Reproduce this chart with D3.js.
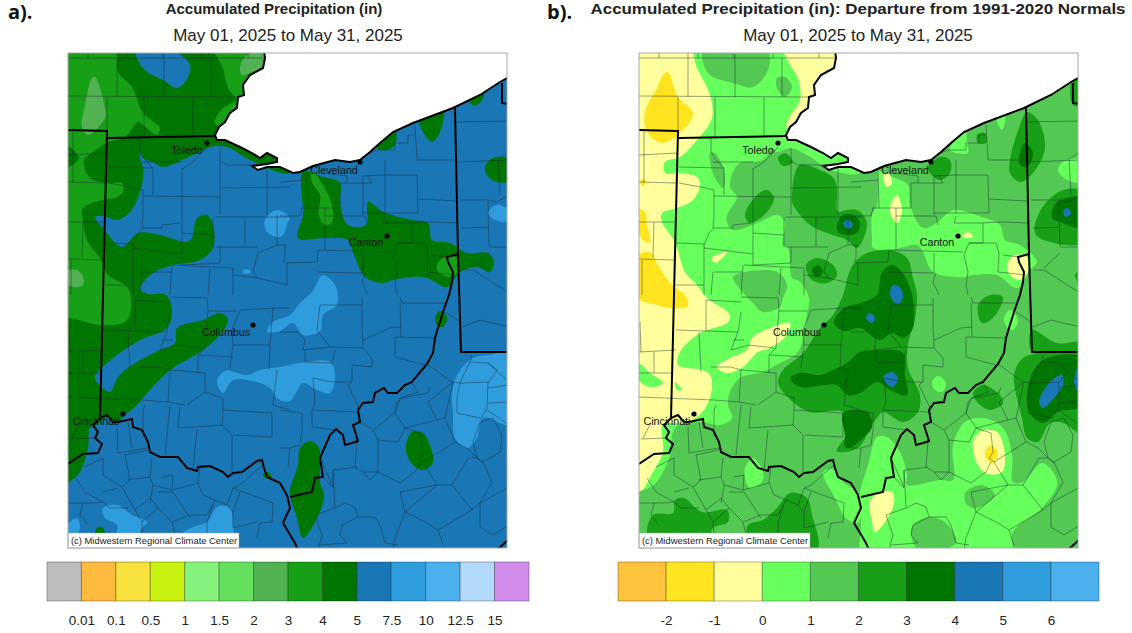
<!DOCTYPE html>
<html>
<head>
<meta charset="utf-8">
<script src="https://cdn.jsdelivr.net/npm/d3@7"></script>
<style>
  body { margin: 0; background: #fff; }
  text { font-family: "Liberation Sans", Arial, sans-serif; }
</style>
</head>
<body>
<div id="my_dataviz"></div>
<script>
// legend categories
var precipColors = ["#bdbdbd","#ffbb3d","#f7e13c","#c8f10f","#85f27c","#64df5e","#52b153","#17a017","#007500","#1a77b6","#2f9ddd","#4ab0ee","#b3d9fa","#d18cec"];
var precipTicks = ["0.01","0.1","0.5","1","1.5","2","3","4","5","7.5","10","12.5","15"];
var departColors = ["#ffc43e","#ffe51f","#ffff9d","#66ff5c","#53c953","#17a017","#007500","#1a77b6","#2f9ddd","#4ab0ee"];
var departTicks = ["-2","-1","0","1","2","3","4","5","6"];

// cities
var cityNames = ["Toledo","Cleveland","Canton","Columbus","Cincinnati"];
var cityDots = [[139,90],[292,109],[319,183],[185,272],[55,361]];
var cityLabels = [[119,97],[266,117],[298,189],[158,279],[28,368]];

var lakeShore = [[196,-3],[197,5],[195,15],[182,22],[175,32],[176,42],[170,44],[169,55],[162,60],[157,69],[151,74],[147,82],[149,87],[157,87],[172,94],[184,100],[192,105],[199,100],[209,105],[209,109],[199,111],[184,113],[190,117],[199,114],[212,114],[225,120],[232,119],[245,113],[267,107],[282,109],[292,107],[302,99],[312,90],[325,79],[345,70],[385,55],[412,42],[432,29],[441,24]];
var lakeCorners = [[441,-3]];

var stateLines = [
  [[0,77],[39,78],[35,242],[32,365]],
  [[40,85],[147,83]],
  [[0,411],[15,401],[30,400],[34,391],[27,385],[30,379],[25,372],[32,365],[39,362],[45,369],[50,369],[64,366],[65,374],[74,377],[80,389],[82,399],[92,404],[110,404],[119,415],[129,418],[130,414],[142,413],[155,419],[160,424],[165,420],[174,419],[189,408],[194,407],[196,415],[199,424],[212,430],[219,442],[222,455],[215,470],[227,490],[230,497]],
  [[222,444],[244,439],[247,425],[255,424],[252,405],[262,382],[268,376],[275,382],[277,392],[284,390],[290,388],[285,372],[292,369],[290,357],[295,350],[305,349],[307,340],[316,335],[320,340],[329,340],[337,332],[344,329],[359,311],[365,300],[367,285],[370,275],[375,259],[381,242],[384,229],[385,219],[380,209],[379,204],[390,201]],
  [[387,55],[390,201],[393,299],[441,299]],
  [[434,30],[434,50],[441,51]],
  [[430,496],[441,486]]
];

var countyLines = [
  [[0,5],[196,5]],[[20,0],[20,5]],[[59,0],[59,5]],[[95,0],[95,5]],[[134,0],[134,5]],[[180,0],[180,5]],
  [[49,0],[49,44]],[[0,43],[170,44]],[[39,44],[39,78]],[[76,44],[76,84]],[[125,44],[125,83]],[[96,2],[96,44]],[[143,5],[143,44]],
  [[0,102],[39,100]],[[0,129],[37,130]],[[15,169],[14,205]],[[0,169],[36,169]],[[0,206],[35,207]],[[5,77],[5,129]],[[3,207],[3,242]],
  [[72,85],[72,99],[77,107],[85,115],[85,142]],[[40,114],[85,115]],[[40,130],[67,135],[75,137],[75,162]],[[75,143],[152,144]],
  [[114,115],[114,212]],[[114,116],[125,109],[139,94]],[[74,109],[114,109]],
  [[152,95],[152,162]],[[152,108],[159,112],[199,112]],[[152,135],[222,134]],[[199,112],[199,162]],[[147,164],[222,164]],[[145,164],[145,194]],[[177,164],[177,194]],[[209,162],[209,192]],[[147,194],[189,194]],[[152,194],[152,210]],[[190,200],[209,192],[219,192]],[[190,200],[185,218],[189,225],[219,232]],[[219,210],[219,232]],
  [[75,162],[74,175],[94,175],[94,172],[112,170]],[[75,175],[70,180],[65,192]],[[114,180],[145,182]],[[37,190],[65,191]],[[65,195],[114,201]],[[65,191],[65,242]],[[114,212],[152,210]],[[104,212],[102,242]],[[75,219],[104,219]],[[74,219],[72,242]],[[37,232],[65,232]],[[142,215],[140,242]],[[165,215],[165,242]],[[165,222],[189,225]],[[105,212],[165,215]],
  [[212,129],[240,127]],[[239,117],[240,155]],[[233,155],[272,155]],[[234,155],[232,163]],[[212,163],[232,163]],[[257,155],[257,197]],[[272,130],[272,155]],[[255,120],[279,123],[279,130]],[[272,130],[304,130]],[[300,122],[304,130]],[[295,123],[317,122],[349,122]],[[295,123],[295,162]],[[257,163],[297,163],[299,172]],[[317,107],[317,160]],[[317,163],[315,170],[344,170]],[[344,170],[344,190]],[[349,122],[350,160]],[[295,160],[350,160]],[[349,107],[389,107]],[[349,107],[347,72]],[[329,90],[340,90],[340,82],[347,82]],[[327,89],[327,97],[309,97],[302,100]],[[350,146],[389,148]],[[344,170],[359,169],[365,169],[389,170]],
  [[330,190],[357,190],[360,200],[359,219]],[[325,202],[330,190]],[[325,202],[329,219],[327,232],[329,242]],[[250,197],[324,199]],[[250,197],[249,209]],[[217,210],[249,209]],[[295,200],[295,220]],[[297,220],[294,229],[300,242]],[[249,219],[295,220]],[[359,219],[387,222]],[[344,190],[330,190]],[[364,202],[380,204]],[[217,192],[217,205],[215,210]],
  [[387,69],[441,68]],[[389,109],[441,107]],[[430,105],[432,142]],[[432,105],[441,99]],[[392,147],[420,147],[429,149],[441,142]],[[420,149],[421,194]],[[422,194],[441,194]],[[394,175],[420,174]],[[405,215],[421,200]],[[395,217],[405,217]],[[405,217],[441,240]],
  [[0,299],[37,297]],[[0,320],[34,320]],[[0,344],[75,347]],[[15,299],[15,320]],[[1,269],[2,299]],[[60,279],[62,319]],[[37,277],[99,279]],[[67,247],[67,277]],[[67,247],[102,249]],[[102,259],[99,279],[92,297]],[[102,244],[139,245],[140,257]],[[172,257],[205,255],[222,255]],[[172,257],[164,277],[165,292],[162,315]],[[140,258],[169,258]],[[140,257],[137,295],[130,302]],[[110,292],[135,295]],[[92,297],[110,292]],[[94,287],[105,287]],[[72,314],[92,314],[102,317]],[[102,317],[137,320]],[[130,302],[130,320]],[[130,302],[165,304]],[[165,292],[202,292]],[[201,317],[202,292],[205,255]],[[137,320],[137,339]],[[119,352],[137,339],[155,345]],[[102,317],[100,349]],[[75,347],[100,349],[117,352]],[[112,354],[110,375],[155,372]],[[155,357],[204,360]],[[155,345],[155,357],[154,372]],[[204,360],[204,384],[165,382]],[[154,372],[164,382],[164,419]],[[129,377],[125,417]],[[102,352],[97,402]],[[77,352],[75,357],[75,384]],[[49,374],[50,400]],[[60,369],[64,395]],[[50,400],[80,395]],[[12,370],[4,385]],[[2,386],[27,385]],
  [[209,317],[205,352],[222,357]],
  [[35,405],[35,422],[54,434],[62,427],[57,402]],[[17,414],[35,405]],[[57,402],[80,397]],[[59,427],[82,424],[84,405]],[[82,424],[85,432],[104,437],[105,422],[95,424]],[[104,437],[130,430],[132,414]],[[130,430],[135,442],[159,452],[165,435],[172,432],[195,412]],[[165,435],[205,450]],[[205,450],[204,469],[192,470],[189,485]],[[85,432],[82,450]],[[54,434],[67,457],[82,445]],[[8,425],[17,439],[35,449]],[[35,439],[50,435]],[[35,449],[42,455],[60,455]],[[0,450],[25,450],[35,449]],[[15,450],[12,462],[20,472]],[[67,457],[74,469],[90,455],[82,445]],[[90,439],[105,439],[122,465]],[[90,455],[104,469],[107,482]],[[74,469],[75,482]],[[104,469],[122,462],[139,462],[147,447]],[[145,452],[139,469],[139,480]],[[165,459],[172,439]],[[165,459],[159,452]],[[165,459],[165,475],[189,469]],
  [[252,252],[294,252]],[[294,245],[294,277],[295,287],[295,295]],[[295,287],[322,275],[333,274]],[[332,250],[333,284]],[[327,284],[367,285]],[[327,284],[327,304],[357,312]],[[295,295],[304,305],[304,314]],[[334,250],[377,250]],[[334,250],[332,244]],[[377,259],[392,269]],[[394,274],[412,267],[441,274]],
  [[252,252],[249,277],[262,294],[294,295]],[[212,279],[230,279],[237,287],[235,297],[262,294]],[[237,297],[237,309],[264,310],[267,297]],[[264,329],[284,329],[284,312],[304,314]],[[284,329],[280,332],[292,357]],[[245,325],[264,329]],[[245,325],[247,349],[244,357],[290,359]],[[212,357],[234,360],[234,377]],[[244,357],[244,374],[267,377]],[[234,377],[232,392]],[[222,395],[232,392]],[[212,395],[222,395],[220,415]],
  [[292,369],[305,377],[327,360],[329,349],[334,345],[360,340],[362,334]],[[327,360],[337,375],[369,367],[360,349],[385,329]],[[305,377],[310,387],[330,389],[337,375]],[[310,387],[310,419],[332,430],[347,419],[352,409]],[[310,419],[295,419],[302,427],[310,419]],[[289,388],[287,414],[295,419]],[[252,405],[265,434],[265,417],[289,414]],[[265,417],[267,455],[277,450],[287,454],[290,464]],[[255,424],[265,435]],[[337,375],[352,380],[354,399],[350,405],[355,409]],[[355,409],[387,389],[377,365],[369,367]],[[387,389],[399,395],[409,405],[415,410]],[[355,409],[369,432],[332,439]],[[332,439],[337,459],[369,432]],[[369,432],[384,432],[404,457],[370,477],[359,470],[337,459]],[[384,432],[400,405],[409,405],[415,409],[424,429],[412,450],[404,457]],[[412,450],[412,474],[425,482],[441,472]],[[415,409],[432,399],[434,382],[425,365],[412,369],[405,389],[409,405]],[[441,434],[412,450]],[[385,329],[377,365]],[[385,329],[392,330],[420,329],[419,355],[412,367]],[[392,330],[389,345],[389,360],[412,365]],[[420,330],[429,317],[420,310],[402,309],[397,319],[392,330]],[[402,309],[404,302]],[[420,310],[441,329]],[[420,335],[441,332]],[[420,350],[441,349]],[[419,357],[441,372]],[[359,311],[384,329]],[[344,330],[350,339],[332,345],[327,360]],
  [[337,459],[327,485],[325,497]],[[370,477],[375,492]],[[290,464],[307,464],[312,472],[317,490]],[[290,464],[274,472],[272,482],[279,490]],[[317,490],[330,492]],[[267,455],[247,462]],[[247,462],[254,482],[250,497]],[[279,490],[252,492]]
];

// panel a: 4-5 in
var precipDark = [
  [[72,99],[72,105],[75,115],[75,125],[72,139],[62,159],[49,167],[39,164],[27,164],[35,175],[54,194],[70,180],[92,182],[119,189],[124,185],[129,165],[139,162],[145,172],[145,195],[132,207],[105,212],[85,220],[72,236],[80,241],[98,242],[104,259],[99,275],[72,287],[39,310],[27,325],[42,339],[50,324],[64,312],[92,297],[107,290],[109,275],[135,267],[152,260],[160,267],[149,285],[132,299],[102,317],[80,339],[69,352],[55,364],[49,370],[39,365],[28,372],[22,375],[20,395],[12,419],[0,430],[-8,434],[-8,-8],[200,-8],[225,95],[222,120],[182,107],[159,94],[142,94],[132,99],[114,107],[95,114],[85,109],[75,105]],
  [[235,119],[255,124],[272,130],[272,150],[280,172],[298,172],[300,149],[315,159],[344,167],[360,170],[364,187],[382,190],[399,200],[420,200],[426,209],[422,219],[409,214],[392,219],[379,234],[359,225],[344,224],[325,227],[315,230],[297,224],[285,199],[280,187],[257,185],[230,185],[235,162]],
  [[352,65],[375,55],[372,79],[364,89],[355,79]],[[309,95],[327,75],[327,92],[319,97]],[[400,46],[417,36],[412,50],[405,52]],
  [[417,114],[425,105],[445,107],[445,127],[429,129],[419,122]],[[367,265],[372,258],[379,264],[375,274],[369,272]],
  [[338,392],[344,379],[355,380],[365,409],[355,417],[345,412],[339,402]],
  [[242,388],[251,395],[252,429],[256,444],[247,469],[235,485],[229,465],[222,439],[230,412],[232,395]],
  [[195,422],[200,419],[204,425],[197,425]],[[29,475],[34,474],[37,482],[27,482]]
];
// 3-4 in
var precipMid = [
  [[-8,-8],[47,-8],[50,19],[64,34],[75,60],[92,75],[89,82],[75,72],[70,69],[57,84],[40,89],[25,99],[16,107],[22,125],[39,130],[54,130],[55,139],[47,145],[35,147],[15,155],[15,169],[20,189],[32,205],[40,222],[60,235],[62,262],[55,270],[32,272],[2,265],[-8,265],[-8,114],[0,114],[11,105],[0,93],[-8,93]],
  [[145,-8],[155,15],[160,35],[168,47],[155,55],[147,70],[160,75],[180,50],[200,-8]],
  [[244,118],[255,132],[264,152],[264,169],[257,172],[251,162],[252,142],[244,129]],
  [[375,205],[389,205],[390,219],[382,224],[370,219],[369,212]]
];
// 2-3 in
var precipLight = [
  [[27,24],[37,55],[37,65],[20,82],[14,74],[17,52],[24,25]],
  [[172,14],[179,2],[200,-3],[200,12],[184,19],[174,22]],
  [[-5,219],[9,217],[15,224],[15,232],[5,234],[-5,227]]
];
// 5-7.5 in, the wet hole up in Michigan
var precipBlue = [
  [[69,-8],[95,-8],[122,12],[117,29],[109,35],[95,27],[79,19],[69,5]]
];
// 7.5-10 in
var precipWet = [
  [[197,167],[209,157],[222,165],[220,169],[215,182],[209,184],[199,179]],
  [[175,217],[182,217],[182,220],[175,220]],
  [[429,152],[445,160],[445,165],[435,169],[424,165],[420,160]],
  [[199,279],[205,269],[222,262],[232,250],[244,239],[255,222],[267,232],[270,245],[268,253],[255,262],[252,278],[235,282],[225,270],[212,278]],
  [[149,329],[157,318],[179,322],[192,317],[212,314],[232,310],[262,309],[267,322],[262,340],[249,337],[235,330],[222,348],[210,346],[202,335],[185,328],[165,327],[155,340]],
  [[384,342],[389,322],[405,305],[422,302],[445,300],[445,372],[415,365],[409,385],[399,395],[387,385],[385,359]],
  [[35,455],[49,452],[64,462],[79,469],[72,478],[72,485],[49,485],[49,472],[37,465]],
  [[-5,478],[9,465],[12,475],[8,482]],
  [[139,469],[149,454],[162,455],[165,472],[165,484],[110,484],[125,474]]
];

// panel b: -1 to 0 in
var departCream = [
  [[49,-8],[58,15],[71,42],[73,65],[58,87],[41,104],[26,109],[26,120],[41,120],[58,124],[61,132],[54,147],[38,155],[23,160],[23,169],[36,189],[46,219],[58,232],[68,245],[91,262],[88,270],[61,280],[41,299],[39,312],[63,317],[71,322],[73,335],[68,352],[58,364],[44,370],[24,372],[24,399],[14,419],[0,442],[-8,446],[-8,-8]],
  [[144,-8],[150,10],[159,25],[161,47],[150,65],[148,75],[170,70],[200,-8]]
];
var departWestGreen = [
  [[-5,307],[11,320],[24,330],[11,334],[-5,322]],[[36,329],[43,337],[38,337]]
];
// 1-2 in
var departMid = [
  [[138,99],[151,95],[168,102],[188,115],[204,120],[221,120],[260,60],[450,10],[450,505],[-8,505],[-8,445],[15,432],[24,419],[31,402],[36,375],[61,369],[81,372],[93,365],[89,352],[91,339],[101,325],[124,319],[137,312],[158,300],[164,285],[168,262],[170,245],[160,228],[153,225],[149,195],[144,192],[146,169],[139,162],[131,164],[118,170],[94,177],[88,169],[88,162],[98,144],[91,134],[94,119],[101,110],[124,107],[134,95]],
  [[65,-8],[128,-4],[129,17],[114,34],[94,30],[71,22],[64,9]],
  [[138,25],[146,24],[153,34],[146,44],[138,35]],
  [[71,100],[76,100],[86,122],[84,135],[76,125],[71,109]],
  [[94,224],[106,219],[138,219],[148,232],[144,245],[141,254],[124,259],[114,250],[100,235]]
];
// 0-1 in, laid back over the 1-2 area
var departLight = [
  [[239,118],[254,124],[269,132],[271,152],[284,175],[299,169],[314,157],[343,164],[361,172],[366,187],[381,192],[398,209],[391,217],[378,235],[358,222],[334,222],[324,224],[294,219],[284,199],[278,192],[251,197],[234,195],[233,185],[233,162],[238,152],[239,125]],
  [[311,97],[326,76],[328,90],[329,100]],[[358,66],[366,63],[363,77]],
  [[419,117],[424,109],[445,107],[445,129],[428,127]],
  [[293,330],[299,323],[307,330],[303,339],[296,337]],[[365,265],[371,257],[379,267],[374,277],[368,274]],
  [[221,440],[229,412],[238,384],[248,384],[261,399],[268,422],[268,432],[301,427],[314,427],[314,392],[326,369],[344,365],[364,375],[373,402],[374,429],[384,429],[403,410],[414,419],[418,432],[403,455],[374,479],[371,505],[225,505],[222,470],[221,450]],
  [[193,416],[184,419],[196,445],[207,465],[219,470],[221,442],[205,430]],
  [[106,415],[114,405],[124,419],[123,429],[111,435],[106,425]],
  [[22,482],[33,465],[44,482]]
];
var departMidPatches = [
  [[326,440],[343,432],[356,442],[338,455],[328,452]],
  [[272,482],[274,472],[290,464],[307,470],[317,490],[280,497]]
];
var departCreamPatches = [
  [[73,205],[88,199],[86,202],[76,210]],
  [[78,314],[91,305],[108,297],[114,284],[134,274],[151,270],[148,282],[131,295],[119,299],[104,314],[88,320]],
  [[244,122],[249,120],[253,130],[248,134]],[[253,149],[258,142],[263,159],[258,170],[251,159]],[[324,183],[329,179],[334,184],[328,185]],
  [[368,212],[376,202],[388,204],[389,219],[381,227],[371,222]],
  [[334,389],[343,378],[358,379],[366,402],[363,419],[349,421],[339,412]],
  [[231,449],[239,440],[253,439],[255,450],[246,469],[236,479],[233,469]],
  [[26,479],[33,470],[39,477],[39,482]]
];
// -2 to -1 in
var departGold = [
  [[29,19],[39,44],[54,60],[46,75],[23,90],[8,79],[6,59],[18,35],[24,22]],
  [[-5,205],[11,199],[19,212],[33,232],[46,242],[49,253],[30,255],[18,252],[-5,243]],
  [[-5,155],[6,159],[8,172],[11,189],[6,189],[-5,169]],
  [[2,127],[6,127],[6,132],[2,132]],
  [[346,399],[353,392],[359,402],[353,410],[348,407]],[[31,476],[34,474],[36,478]]
];
// 2-3 in
var departGreen = [
  [[153,142],[156,120],[161,112],[181,117],[196,127],[199,159],[204,158],[218,157],[228,170],[218,195],[208,187],[194,182],[174,174],[161,162],[153,149]],
  [[106,162],[118,142],[128,137],[135,145],[128,159],[111,170]],
  [[139,105],[146,100],[154,109],[144,113]],
  [[167,212],[178,205],[194,212],[198,222],[188,230],[173,227]],
  [[289,114],[301,104],[311,107],[311,120],[301,127],[291,120]],[[338,82],[346,80],[347,90],[339,90]],
  [[371,107],[381,72],[388,59],[399,67],[406,95],[394,120],[381,129],[371,120]],
  [[396,180],[403,155],[424,137],[445,139],[445,189],[411,189]],
  [[433,27],[445,22],[445,52],[434,52]],[[436,222],[445,216],[445,237]],
  [[204,242],[210,220],[216,209],[228,200],[251,197],[268,205],[274,225],[278,242],[276,265],[269,292],[269,315],[281,342],[279,359],[264,369],[244,359],[238,365],[231,375],[222,392],[212,398],[198,398],[211,375],[204,359],[171,359],[154,349],[139,330],[144,317],[164,300],[181,275],[194,262]],
  [[339,252],[351,242],[364,244],[354,265],[343,270]],
  [[334,340],[344,332],[361,342],[364,350],[351,357],[339,350]],
  [[375,322],[384,305],[401,300],[445,298],[445,381],[424,370],[411,370],[399,389],[388,385],[383,365]],
  [[393,277],[418,290],[445,289],[445,299],[393,299]],
  [[9,482],[14,462],[34,460],[36,447],[45,445],[63,459],[88,457],[89,469],[74,475],[70,485],[45,485]],
  [[109,472],[124,467],[138,455],[151,440],[168,445],[173,462],[178,497],[111,497]]
];
// 3-4 in
var departDark = [
  [[198,172],[204,162],[214,162],[221,170],[218,180],[208,182],[199,179]],
  [[173,217],[179,212],[184,219],[178,224]],
  [[380,105],[386,90],[394,100],[388,114],[381,112]],
  [[413,165],[418,149],[445,145],[445,175],[421,169]],
  [[195,270],[205,255],[221,250],[238,242],[243,219],[253,212],[263,219],[273,242],[274,275],[264,285],[253,280],[241,287],[221,275],[205,278]],
  [[151,325],[161,320],[181,322],[194,317],[208,310],[221,299],[238,297],[264,300],[266,322],[268,342],[251,337],[238,329],[221,340],[208,342],[198,332],[161,334]],
  [[204,360],[221,357],[229,359],[233,374],[224,385],[211,395],[206,394],[206,382]],
  [[388,342],[395,317],[408,305],[445,305],[445,352],[418,359],[405,370],[392,362]]
];
// 4-5 in
var departBlue = [
  [[204,170],[209,167],[214,172],[209,176]],
  [[424,159],[428,155],[432,160],[427,164]],
  [[251,241],[254,232],[261,234],[264,243],[261,250],[256,250]],
  [[227,265],[231,260],[236,265],[233,270]],
  [[244,324],[253,319],[259,325],[254,334],[247,330]],
  [[400,349],[411,329],[423,322],[424,332],[415,345],[404,355]],
  [[435,329],[442,308],[445,347]]
];

// set the dimensions
var width = 1132, height = 633,
  mapW = 439, mapH = 495, mapTop = 53;

var svg = d3.select("#my_dataviz")
.append("svg")
  .attr("width", width)
  .attr("height", height)
  .style("display", "block");

var mapX = d3.scaleLinear().domain([0, 439]).range([0, mapW]);
var mapY = d3.scaleLinear().domain([0, 495]).range([0, mapH]);

var smooth = d3.line().x(d => mapX(d[0])).y(d => mapY(d[1])).curve(d3.curveCatmullRomClosed.alpha(0.5));
var plain = d3.line().x(d => mapX(d[0])).y(d => mapY(d[1]));

function drawMap(id, left, base, layers) {
  var g = svg.append("g").attr("transform", "translate(" + left + "," + mapTop + ")");

  g.append("clipPath").attr("id", id)
    .append("rect").attr("width", mapW).attr("height", mapH);

  var map = g.append("g").attr("clip-path", "url(#" + id + ")");
  map.append("rect").attr("width", mapW).attr("height", mapH).attr("fill", base);

  layers.forEach(function(layer) {
    map.append("g").selectAll("path")
      .data(layer.shapes)
      .enter()
      .append("path")
        .attr("d", smooth)
        .attr("fill", layer.color);
  });

  // counties
  map.append("g").selectAll("path")
    .data(countyLines)
    .enter()
    .append("path")
      .attr("d", plain)
      .attr("fill", "none")
      .attr("stroke", "#1c2a33")
      .attr("stroke-opacity", 0.5)
      .attr("stroke-width", 0.9);

  // lake goes on top of the contours
  map.append("path")
    .attr("d", plain(lakeShore.concat(lakeCorners)) + "Z")
    .attr("fill", "#fff");
  map.append("path")
    .attr("d", plain(lakeShore))
    .attr("fill", "none")
    .attr("stroke", "#000")
    .attr("stroke-width", 2);

  map.append("g").selectAll("path")
    .data(stateLines)
    .enter()
    .append("path")
      .attr("d", plain)
      .attr("fill", "none")
      .attr("stroke", "#000")
      .attr("stroke-width", 2);

  // cities
  g.selectAll("circle")
    .data(cityDots)
    .enter()
    .append("circle")
      .attr("cx", d => mapX(d[0]))
      .attr("cy", d => mapY(d[1]))
      .attr("r", 2.6)
      .attr("fill", "#000");

  g.selectAll("text.city")
    .data(cityNames)
    .enter()
    .append("text")
      .attr("class", "city")
      .attr("x", (d, i) => mapX(cityLabels[i][0]))
      .attr("y", (d, i) => mapY(cityLabels[i][1]))
      .attr("dy", "0.35em")
      .attr("text-anchor", "middle")
      .attr("font-size", "10.7px")
      .attr("fill", "#111")
      .text(d => d);

  // credit box
  g.append("rect")
    .attr("x", 0).attr("y", mapH - 15)
    .attr("width", 171).attr("height", 15)
    .attr("fill", "#fff")
    .attr("stroke", "#999")
    .attr("stroke-width", 0.5);
  g.append("text")
    .attr("x", 3).attr("y", mapH - 4.5)
    .attr("font-size", "9.4px")
    .attr("fill", "#222")
    .text("(c) Midwestern Regional Climate Center");

  g.append("rect")
    .attr("width", mapW).attr("height", mapH)
    .attr("fill", "none")
    .attr("stroke", "#aaa");
}

drawMap("clipA", 68, precipColors[9], [
  {shapes: precipDark, color: precipColors[8]},
  {shapes: precipMid, color: precipColors[7]},
  {shapes: precipLight, color: precipColors[6]},
  {shapes: precipBlue, color: precipColors[9]},
  {shapes: precipWet, color: precipColors[10]}
]);

drawMap("clipB", 639, departColors[3], [
  {shapes: departCream, color: departColors[2]},
  {shapes: departWestGreen, color: departColors[3]},
  {shapes: departMid, color: departColors[4]},
  {shapes: departLight, color: departColors[3]},
  {shapes: departMidPatches, color: departColors[4]},
  {shapes: departCreamPatches, color: departColors[2]},
  {shapes: departGold, color: departColors[1]},
  {shapes: departGreen, color: departColors[5]},
  {shapes: departDark, color: departColors[6]},
  {shapes: departBlue, color: departColors[7]}
]);

// legend bars, labels sit on the swatch edges
function drawLegend(left, right, colors, ticks) {
  var band = d3.scaleBand().domain(d3.range(colors.length)).range([left, right]);
  var g = svg.append("g");

  g.selectAll("rect")
    .data(colors)
    .enter()
    .append("rect")
      .attr("x", (d, i) => band(i))
      .attr("y", 562)
      .attr("width", band.bandwidth())
      .attr("height", 39)
      .attr("fill", d => d)
      .attr("stroke", "#000")
      .attr("stroke-opacity", 0.3);

  var edge = d3.scalePoint().domain(ticks).range([left + band.bandwidth(), right - band.bandwidth()]);
  var axis = g.append("g")
    .attr("transform", "translate(0,607)")
    .call(d3.axisBottom(edge).tickSize(0).tickPadding(8));
  axis.select(".domain").remove();
  axis.selectAll("text")
    .attr("font-size", "13.5px")
    .attr("fill", "#222");
}

drawLegend(47, 529, precipColors, precipTicks);
drawLegend(618, 1099, departColors, departTicks);

// titles
var titles = [
  {x: 274, y: 14, size: "15px", bold: true, text: "Accumulated Precipitation (in)"},
  {x: 288, y: 41, size: "17px", bold: false, text: "May 01, 2025 to May 31, 2025"},
  {x: 858, y: 14, size: "15.5px", bold: true, span: 535, text: "Accumulated Precipitation (in): Departure from 1991-2020 Normals"},
  {x: 858, y: 41, size: "17px", bold: false, text: "May 01, 2025 to May 31, 2025"}
];
svg.selectAll("text.title")
  .data(titles)
  .enter()
  .append("text")
    .attr("class", "title")
    .attr("x", d => d.x)
    .attr("y", d => d.y)
    .attr("text-anchor", "middle")
    .attr("font-size", d => d.size)
    .attr("font-weight", d => d.bold ? "bold" : "normal")
    .attr("textLength", d => d.span || null)
    .attr("lengthAdjust", d => d.span ? "spacingAndGlyphs" : null)
    .attr("fill", "#222")
    .text(d => d.text);

svg.selectAll("text.letter")
  .data([{x: 8, t: "a)."}, {x: 547, t: "b)."}])
  .enter()
  .append("text")
    .attr("class", "letter")
    .attr("x", d => d.x)
    .attr("y", 19)
    .style("font-family", "'Open Sans', sans-serif")
    .attr("font-size", "20px")
    .attr("font-weight", "bold")
    .attr("fill", "#111")
    .text(d => d.t);
</script>
</body>
</html>
